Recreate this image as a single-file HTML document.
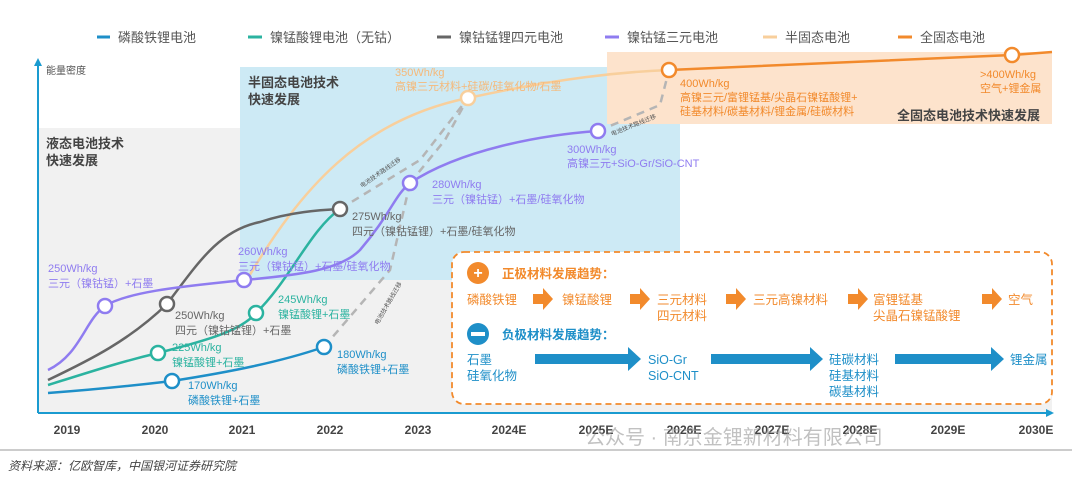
<!DOCTYPE html>
<html><head><meta charset="utf-8"><style>
body{margin:0;background:#fff;}
svg{display:block;font-family:"Liberation Sans","Noto Sans CJK SC",sans-serif;}
</style></head><body>
<svg width="1072" height="484" viewBox="0 0 1072 484" xmlns="http://www.w3.org/2000/svg">
<g font-size="13" fill="#555">
<line x1="97" y1="37" x2="110" y2="37" stroke="#1e8fc8" stroke-width="3"/><text x="118" y="42">磷酸铁锂电池</text>
<line x1="248" y1="37" x2="262" y2="37" stroke="#2bb3a0" stroke-width="3"/><text x="270" y="42">镍锰酸锂电池（无钴）</text>
<line x1="437" y1="37" x2="451" y2="37" stroke="#666" stroke-width="3"/><text x="459" y="42">镍钴锰锂四元电池</text>
<line x1="605" y1="37" x2="619" y2="37" stroke="#8f7cf0" stroke-width="3"/><text x="627" y="42">镍钴锰三元电池</text>
<line x1="763" y1="37" x2="777" y2="37" stroke="#f8cf9c" stroke-width="3"/><text x="785" y="42">半固态电池</text>
<line x1="898" y1="37" x2="912" y2="37" stroke="#f28a2c" stroke-width="3"/><text x="920" y="42">全固态电池</text>
</g>
<rect x="38" y="128" width="202" height="285" fill="#f1f1f1"/>
<rect x="240" y="280" width="812" height="133" fill="#f1f1f1"/>
<rect x="240" y="67" width="440" height="213" fill="#cdeaf5"/>
<rect x="607" y="52" width="445" height="72" fill="#fde3cc"/>
<line x1="38" y1="413" x2="38" y2="64" stroke="#1a9bd0" stroke-width="2"/>
<polygon points="34,66 38,58 42,66" fill="#1a9bd0"/>
<line x1="38" y1="413" x2="1048" y2="413" stroke="#1a9bd0" stroke-width="2"/>
<polygon points="1046,409 1054,413 1046,417" fill="#1a9bd0"/>
<text x="46" y="74" font-size="10" fill="#555">能量密度</text>
<g font-size="13" fill="#444" font-weight="bold">
<text x="46" y="148">液态电池技术</text><text x="46" y="165">快速发展</text>
<text x="248" y="87">半固态电池技术</text><text x="248" y="104">快速发展</text>
<text x="897" y="120">全固态电池技术快速发展</text>
</g>
<g stroke="#b5b5b5" stroke-width="2.5" stroke-dasharray="8,6" fill="none">
<path d="M324,347 L390,270 L410,183"/>
<path d="M340,209 L420,160 L468,98"/>
<path d="M410,183 L445,140 L468,98"/>
<path d="M598,131 L660,105 L669,70"/>
</g>
<g font-size="6" fill="#555">
<text transform="translate(362,188) rotate(-35)">电池技术路线迁移</text>
<text transform="translate(378,325) rotate(-60)">电池技术路线迁移</text>
<text transform="translate(612,136) rotate(-22)">电池技术路线迁移</text>
</g>
<g fill="none" stroke-width="2.5">
<path d="M248,278 C300,190 360,120 468,98 C560,78 620,72 669,70" stroke="#f8cf9c"/>
<path d="M669,70 L1012,55 L1052,52" stroke="#f28a2c"/>
<path d="M48,393 C90,390 130,386 172,381 C230,372 280,362 324,347" stroke="#1e8fc8"/>
<path d="M48,385 C90,372 120,362 158,353 C200,342 240,332 256,313 C290,280 310,230 340,209" stroke="#2bb3a0"/>
<path d="M48,380 C90,360 130,340 167,304 C200,260 220,230 260,222 C290,212 320,210 340,209" stroke="#666"/>
<path d="M48,370 C80,355 85,320 105,306 C130,290 200,285 244,280 C300,275 340,270 360,250 C390,215 395,195 410,183 C460,150 540,135 598,131" stroke="#8f7cf0"/>
</g>
<g fill="#fff" stroke-width="2.5">
<circle cx="172" cy="381" r="7" stroke="#1e8fc8"/>
<circle cx="324" cy="347" r="7" stroke="#1e8fc8"/>
<circle cx="158" cy="353" r="7" stroke="#2bb3a0"/>
<circle cx="256" cy="313" r="7" stroke="#2bb3a0"/>
<circle cx="167" cy="304" r="7" stroke="#666"/>
<circle cx="340" cy="209" r="7" stroke="#666"/>
<circle cx="105" cy="306" r="7" stroke="#8f7cf0"/>
<circle cx="244" cy="280" r="7" stroke="#8f7cf0"/>
<circle cx="410" cy="183" r="7" stroke="#8f7cf0"/>
<circle cx="598" cy="131" r="7" stroke="#8f7cf0"/>
<circle cx="468" cy="98" r="7" stroke="#f8cf9c"/>
<circle cx="669" cy="70" r="7" stroke="#f28a2c"/>
<circle cx="1012" cy="55" r="7" stroke="#f28a2c"/>
</g>
<g font-size="11">
<g fill="#8f7cf0"><text x="48" y="272">250Wh/kg</text><text x="48" y="287">三元（镍钴锰）+石墨</text>
<text x="238" y="255">260Wh/kg</text><text x="238" y="270">三元（镍钴锰）+石墨/硅氧化物</text>
<text x="432" y="188">280Wh/kg</text><text x="432" y="203">三元（镍钴锰）+石墨/硅氧化物</text>
<text x="567" y="153">300Wh/kg</text><text x="567" y="167">高镍三元+SiO-Gr/SiO-CNT</text></g>
<g fill="#666"><text x="175" y="319">250Wh/kg</text><text x="175" y="334">四元（镍钴锰锂）+石墨</text>
<text x="352" y="220">275Wh/kg</text><text x="352" y="235">四元（镍钴锰锂）+石墨/硅氧化物</text></g>
<g fill="#2bb3a0"><text x="278" y="303">245Wh/kg</text><text x="278" y="318">镍锰酸锂+石墨</text>
<text x="172" y="351">225Wh/kg</text><text x="172" y="366">镍锰酸锂+石墨</text></g>
<g fill="#1e8fc8"><text x="188" y="389">170Wh/kg</text><text x="188" y="404">磷酸铁锂+石墨</text>
<text x="337" y="358">180Wh/kg</text><text x="337" y="373">磷酸铁锂+石墨</text></g>
<g fill="#f5b97a"><text x="395" y="76">350Wh/kg</text><text x="395" y="90">高镍三元材料+硅碳/硅氧化物/石墨</text></g>
<g fill="#f28a2c"><text x="680" y="87">400Wh/kg</text><text x="680" y="101">高镍三元/富锂锰基/尖晶石镍锰酸锂+</text><text x="680" y="115">硅基材料/碳基材料/锂金属/硅碳材料</text>
<text x="980" y="78">&gt;400Wh/kg</text><text x="980" y="92">空气+锂金属</text></g>
</g>
<rect x="452" y="252" width="600" height="152" rx="12" fill="#fff" stroke="#f28a2c" stroke-width="1.8" stroke-dasharray="6,4"/>
<circle cx="478" cy="273" r="11" fill="#f28a2c"/><text x="478" y="278" font-size="16" fill="#fff" text-anchor="middle" font-weight="bold">+</text>
<text x="502" y="278" font-size="12.5" fill="#f28a2c" font-weight="bold">正极材料发展趋势：</text>
<circle cx="478" cy="334" r="11" fill="#1e8fc8"/><rect x="471" y="332" width="14" height="4" fill="#fff"/>
<text x="502" y="339" font-size="12.5" fill="#1e8fc8" font-weight="bold">负极材料发展趋势：</text>
<g font-size="12.5" fill="#f28a2c">
<text x="467" y="304">磷酸铁锂</text><text x="562" y="304">镍锰酸锂</text>
<text x="657" y="304">三元材料</text><text x="657" y="320">四元材料</text>
<text x="753" y="304">三元高镍材料</text>
<text x="873" y="304">富锂锰基</text><text x="873" y="320">尖晶石镍锰酸锂</text>
<text x="1008" y="304">空气</text>
</g>
<g fill="#f28a2c">
<polygon points="533,294 543,294 543,288 553,299 543,310 543,304 533,304"/>
<polygon points="630,294 640,294 640,288 650,299 640,310 640,304 630,304"/>
<polygon points="726,294 736,294 736,288 746,299 736,310 736,304 726,304"/>
<polygon points="848,294 858,294 858,288 868,299 858,310 858,304 848,304"/>
<polygon points="982,294 992,294 992,288 1002,299 992,310 992,304 982,304"/>
</g>
<g font-size="12.5" fill="#1e8fc8">
<text x="467" y="364">石墨</text><text x="467" y="380">硅氧化物</text>
<text x="648" y="364">SiO-Gr</text><text x="648" y="380">SiO-CNT</text>
<text x="829" y="364">硅碳材料</text><text x="829" y="380">硅基材料</text><text x="829" y="396">碳基材料</text>
<text x="1010" y="364">锂金属</text>
</g>
<g fill="#1e8fc8">
<polygon points="535,354 628,354 628,347 641,359 628,371 628,364 535,364"/>
<polygon points="711,354 810,354 810,347 823,359 810,371 810,364 711,364"/>
<polygon points="895,354 991,354 991,347 1004,359 991,371 991,364 895,364"/>
</g>
<g font-size="12" fill="#444" font-weight="bold" text-anchor="middle">
<text x="67" y="434">2019</text><text x="155" y="434">2020</text><text x="242" y="434">2021</text><text x="330" y="434">2022</text><text x="418" y="434">2023</text><text x="509" y="434">2024E</text><text x="596" y="434">2025E</text><text x="684" y="434">2026E</text><text x="772" y="434">2027E</text><text x="860" y="434">2028E</text><text x="948" y="434">2029E</text><text x="1036" y="434">2030E</text>
</g>
<text x="585" y="444" font-size="20" fill="#999" opacity="0.6">公众号 · 南京金锂新材料有限公司</text>
<line x1="0" y1="450" x2="1072" y2="450" stroke="#999" stroke-width="1"/>
<text x="8" y="470" font-size="12" fill="#444" font-style="italic">资料来源：亿欧智库，中国银河证券研究院</text>
</svg>
</body></html>
